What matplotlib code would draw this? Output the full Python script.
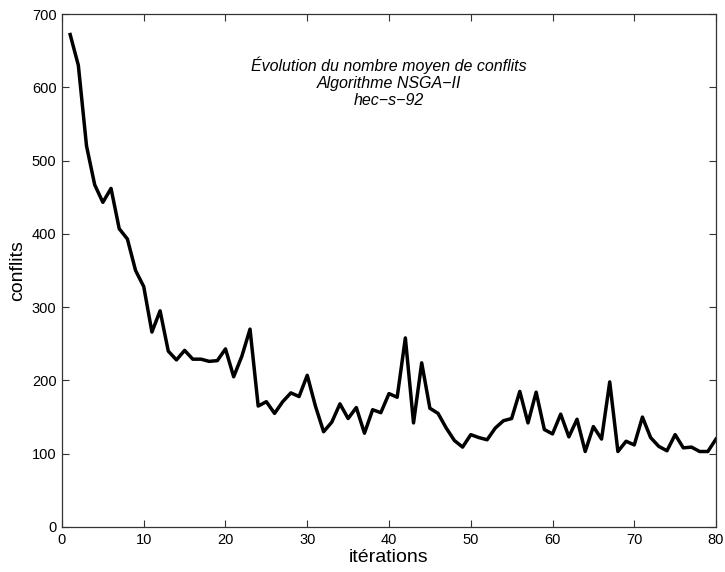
import matplotlib
matplotlib.use("Agg")
import matplotlib.pyplot as plt
import numpy as np

# nombre moyen de conflits par itération
iterations = np.arange(1, 81)
conflits = [
    672, 630, 520, 467, 443, 462, 407, 393, 350, 328,
    266, 295, 240, 228, 241, 229, 229, 226, 227, 243,
    205, 233, 270, 165, 171, 155, 171, 183, 178, 207,
    165, 130, 143, 168, 148, 163, 128, 160, 156, 182,
    177, 258, 142, 224, 162, 155, 135, 118, 109, 126,
    122, 119, 135, 145, 148, 185, 142, 184, 133, 127,
    154, 123, 147, 103, 137, 120, 198, 103, 117, 112,
    150, 122, 110, 104, 126, 108, 109, 103, 103, 120,
]
xticks = [0, 10, 20, 30, 40, 50, 60, 70, 80]
yticks = [0, 100, 200, 300, 400, 500, 600, 700]

plt.rcParams['font.family'] = ['Liberation Sans', 'DejaVu Sans']

fig = plt.figure(figsize=(7.25, 5.72), dpi=100)
ax = fig.add_axes([0.0855, 0.0787, 0.9021, 0.8968])

ax.plot(iterations, conflits, color='black', linewidth=2.5)

ax.set_xlim(0, 80)
ax.set_ylim(0, 700)
ax.set_xticks(xticks)
ax.set_yticks(yticks)
ax.tick_params(direction='in', top=True, right=True, length=5,
               labelsize=10.5, color='#333333', pad=4)
for s in ax.spines.values():
    s.set_color('#333333')
    s.set_linewidth(0.9)

ax.set_xlabel('itérations', fontsize=14, labelpad=2)
ax.set_ylabel('conflits', fontsize=14, labelpad=4)

ax.text(40, 607, "Évolution du nombre moyen de conflits\nAlgorithme NSGA\u2212II\nhec\u2212s\u221292",
        ha='center', va='center', fontsize=11.5, style='italic', linespacing=1.15)

fig.savefig('out.png', dpi=100)
